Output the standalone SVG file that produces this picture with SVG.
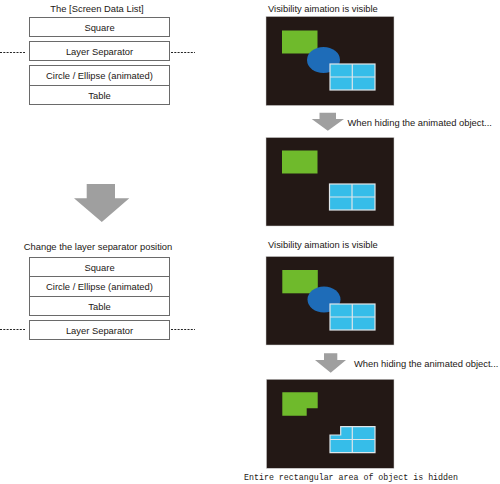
<svg xmlns="http://www.w3.org/2000/svg" width="500" height="484" viewBox="0 0 500 484">
<style>
text{font-family:"Liberation Sans",Arial,sans-serif;font-size:9.4px;fill:#231815}
.c{text-anchor:middle}
.mono{font-family:"Liberation Mono","DejaVu Sans Mono",monospace;font-size:9.6px}
.box{fill:#fff;stroke:#6a6a6a;stroke-width:1}
.dot{stroke:#222;stroke-width:1;stroke-dasharray:2 1.3}
.scr{fill:#231815;stroke:#d0d0d0;stroke-width:0.5}
.grn{fill:#6fba2c}
.ell{fill:#1e6cb8}
.tbl{fill:#36bde9;stroke:#dfe6ea;stroke-width:1.2}
.tl{stroke:#dfe6ea;stroke-width:1.2}
.arr{fill:#9f9f9f}
</style>

<g id="list1">
<text class="c" x="97" y="11.5">The [Screen Data List]</text>
<rect class="box" x="29.5" y="17.5" width="140" height="19"/>
<text class="c" x="99.5" y="30.5">Square</text>
<rect class="box" x="29.5" y="41.5" width="140" height="19"/>
<text class="c" x="99.5" y="54.5">Layer Separator</text>
<rect class="box" x="29.5" y="65.5" width="140" height="20"/>
<text class="c" x="99.5" y="79">Circle / Ellipse (animated)</text>
<rect class="box" x="29.5" y="85.5" width="140" height="19"/>
<text class="c" x="99.5" y="98.5">Table</text>
</g>

<g id="list2">
<text class="c" x="98" y="250">Change the layer separator position</text>
<rect class="box" x="29.5" y="257.5" width="140" height="19"/>
<text class="c" x="99.5" y="270.5">Square</text>
<rect class="box" x="29.5" y="276.5" width="140" height="20"/>
<text class="c" x="99.5" y="290">Circle / Ellipse (animated)</text>
<rect class="box" x="29.5" y="296.5" width="140" height="19"/>
<text class="c" x="99.5" y="309.5">Table</text>
<rect class="box" x="29.5" y="320.5" width="140" height="19"/>
<text class="c" x="99.5" y="333.5">Layer Separator</text>
</g>

<g id="screen1">
<text x="268" y="12">Visibility aimation is visible</text>
<rect class="scr" x="266" y="16.5" width="128" height="89"/>
<rect class="grn" x="282" y="30.5" width="35.5" height="23"/>
<ellipse class="ell" cx="323.5" cy="60" rx="16.5" ry="13"/>
<rect class="tbl" x="330" y="64" width="45" height="26"/>
<line class="tl" x1="352.3" y1="64" x2="352.3" y2="90"/>
<line class="tl" x1="330" y1="77" x2="375" y2="77"/>
</g>

<g id="screen2">
<rect class="scr" x="266" y="137.5" width="128" height="88.5"/>
<rect class="grn" x="282" y="150.5" width="35.5" height="23"/>
<rect class="tbl" x="329.5" y="184" width="45.5" height="26"/>
<line class="tl" x1="352" y1="184" x2="352" y2="210"/>
<line class="tl" x1="329.5" y1="197" x2="375" y2="197"/>
</g>

<g id="screen3">
<text x="268" y="248">Visibility aimation is visible</text>
<rect class="scr" x="266" y="256.5" width="128" height="88.5"/>
<rect class="grn" x="282.3" y="270" width="35.5" height="23.3"/>
<ellipse class="ell" cx="324" cy="299.5" rx="16.5" ry="13"/>
<rect class="tbl" x="330" y="304" width="45" height="26"/>
<line class="tl" x1="352.3" y1="304" x2="352.3" y2="330"/>
<line class="tl" x1="330" y1="317" x2="375" y2="317"/>
</g>

<g id="screen4">
<rect class="scr" x="266.5" y="379.3" width="127.5" height="89"/>
<polygon class="grn" points="282.3,392.3 317.7,392.3 317.7,408.3 306.7,408.3 306.7,415.7 282.3,415.7"/>
<polygon class="tbl" points="340.7,426.7 375,426.7 375,452.7 330,452.7 330,435 340.7,435"/>
<line class="tl" x1="352.3" y1="426.7" x2="352.3" y2="452.7"/>
<line class="tl" x1="330" y1="439.5" x2="375" y2="439.5"/>
<text class="mono" x="244" y="479.5" textLength="214" lengthAdjust="spacingAndGlyphs">Entire rectangular area of object is hidden</text>
</g>

<g id="connectors">
<line class="dot" x1="0" y1="52.5" x2="25" y2="52.5"/>
<line class="dot" x1="171" y1="52.5" x2="195" y2="52.5"/>
<line class="dot" x1="0" y1="329.5" x2="25" y2="329.5"/>
<line class="dot" x1="171" y1="329.5" x2="195" y2="329.5"/>
<polygon class="arr" points="86.7,184 115,184 115,198.3 129.3,198.3 101.8,222 74,198.3 86.7,198.3"/>
<polygon class="arr" points="319.5,112.7 336,112.7 336,119 344,119 327.8,130.7 311.7,119 319.5,119"/>
<text x="347.5" y="126">When hiding the animated object...</text>
<polygon class="arr" points="324,353.3 337.3,353.3 337.3,360 346,360 330.7,372.7 315,360 324,360"/>
<text x="354" y="367">When hiding the animated object...</text>
</g>
</svg>
